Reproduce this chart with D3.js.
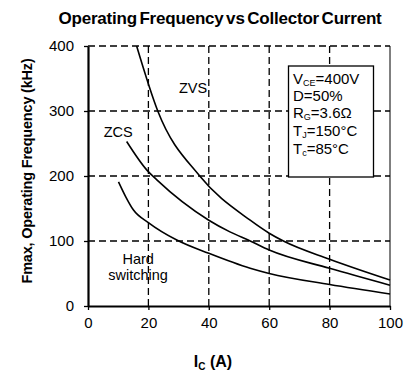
<!DOCTYPE html>
<html>
<head>
<meta charset="utf-8">
<script src="https://cdn.jsdelivr.net/npm/d3@7"></script>
<style>
  body { margin: 0; background: #fff; }
  text { font-family: "Liberation Sans", Arial, sans-serif; }
</style>
</head>
<body>
<div id="chart"></div>
<script>
// curve data (Ic in A, Fmax in kHz)
var zvsI = [16.1, 23.1, 37, 53.7, 60, 64.7, 80, 100];
var zvsF = [400, 300, 200, 132, 112, 100, 72, 40];
var zcsI = [12.8, 19.5, 22.8, 40, 47, 53.7, 60, 80, 100];
var zcsF = [253, 209, 194, 132, 114, 100, 86, 58, 32];
var hardI = [10.1, 12.5, 15, 20.1, 29.4, 40, 53.7, 60, 80, 100];
var hardF = [191, 168, 148, 128, 101.5, 81, 58, 50, 33, 18.5];

var xTicks = [0, 20, 40, 60, 80, 100];
var yTicks = [0, 100, 200, 300, 400];

const width = 407;
const height = 373;
const mLeft = 88, mRight = 390, mTop = 46, mBottom = 306;

const svg = d3.select('#chart')
    .append('svg')
    .attr('width', width)
    .attr('height', height);

var x = d3.scaleLinear().domain([0, 100]).range([mLeft, mRight]);
var y = d3.scaleLinear().domain([0, 400]).range([mBottom, mTop]);

// dashed grid
svg.append('g').selectAll('line')
    .data(xTicks.filter(function(d) { return d > 0 && d < 100; }))
    .enter().append('line')
    .attr('x1', function(d) { return x(d); })
    .attr('x2', function(d) { return x(d); })
    .attr('y1', y(0)).attr('y2', y(400))
    .attr('stroke', '#000').attr('stroke-width', 1.3)
    .attr('stroke-dasharray', '7,4');

svg.append('g').selectAll('line')
    .data(yTicks.filter(function(d) { return d > 0; }))
    .enter().append('line')
    .attr('x1', x(0)).attr('x2', x(100))
    .attr('y1', function(d) { return y(d); })
    .attr('y2', function(d) { return y(d); })
    .attr('stroke', '#000').attr('stroke-width', 1.3)
    .attr('stroke-dasharray', '7,4');

// right border
svg.append('line')
    .attr('x1', x(100)).attr('x2', x(100))
    .attr('y1', y(0)).attr('y2', y(400))
    .attr('stroke', '#000').attr('stroke-width', 1);

// axes
var xAxis = svg.append('g')
    .attr('transform', 'translate(0,' + y(0) + ')')
    .call(d3.axisBottom(x).tickValues(xTicks).tickSize(4).tickSizeOuter(0));
var yAxis = svg.append('g')
    .attr('transform', 'translate(' + x(0) + ',0)')
    .call(d3.axisLeft(y).tickValues(yTicks).tickSize(4).tickSizeOuter(0));

[xAxis, yAxis].forEach(function(a) {
    a.select('.domain').attr('stroke-width', 2.2);
    a.selectAll('.tick line').attr('stroke-width', 1.3);
    a.selectAll('.tick text')
        .attr('font-family', '"Liberation Sans", Arial, sans-serif')
        .attr('font-size', 15)
        .attr('fill', '#000');
});
xAxis.selectAll('.tick text').attr('dy', '0.95em').attr('y', 8);
yAxis.selectAll('.tick text').attr('x', -14);

// curves
var line = d3.line()
    .x(function(d) { return x(d[0]); })
    .y(function(d) { return y(d[1]); })
    .curve(d3.curveMonotoneX);

[[zvsI, zvsF], [zcsI, zcsF], [hardI, hardF]].forEach(function(s) {
    svg.append('path')
        .datum(d3.zip(s[0], s[1]))
        .attr('d', line)
        .attr('fill', 'none')
        .attr('stroke', '#000')
        .attr('stroke-width', 1.6);
});

// curve labels
function label(t, i, f) {
    svg.append('text')
        .attr('x', x(i)).attr('y', y(f))
        .attr('text-anchor', 'middle')
        .attr('font-size', 14.5)
        .text(t);
}
label('ZVS', 34.8, 328);
label('ZCS', 10, 260);
label('Hard', 16.6, 64.6);
label('switching', 16.6, 39.5);

// conditions box
svg.append('rect')
    .attr('x', 288.5).attr('y', 66)
    .attr('width', 85).attr('height', 111)
    .attr('fill', '#fff').attr('stroke', '#000').attr('stroke-width', 1.3);

var cond = [['V', 'CE', '=400V'], ['D=50%', '', ''], ['R', 'G', '=3.6Ω'],
            ['T', 'J', '=150°C'], ['T', 'c', '=85°C']];
var condY = [84, 101, 118, 136, 154];
cond.forEach(function(c, i) {
    var t = svg.append('text')
        .attr('x', 293).attr('y', condY[i])
        .attr('font-size', 15);
    t.append('tspan').text(c[0]);
    if (c[1]) {
        t.append('tspan').attr('font-size', 9).attr('dy', 2).text(c[1]);
        t.append('tspan').attr('dy', -2).text(c[2]);
    }
});

// title and axis titles
svg.append('text')
    .attr('x', 220).attr('y', 24)
    .attr('text-anchor', 'middle')
    .attr('font-size', 17).attr('font-weight', 'bold')
    .attr('letter-spacing', -0.2)
    .attr('word-spacing', -2)
    .text('Operating Frequency vs Collector Current');

var xl = svg.append('text')
    .attr('x', 213).attr('y', 367)
    .attr('text-anchor', 'middle')
    .attr('font-size', 16).attr('font-weight', 'bold');
xl.append('tspan').text('I');
xl.append('tspan').attr('font-size', 10).attr('dy', 3).text('C');
xl.append('tspan').attr('dy', -3).text(' (A)');

svg.append('text')
    .attr('transform', 'translate(32,171) rotate(-90)')
    .attr('text-anchor', 'middle')
    .attr('font-size', 14.5).attr('font-weight', 'bold')
    .attr('letter-spacing', -0.2)
    .text('Fmax, Operating Frequency (kHz)');
</script>
</body>
</html>
